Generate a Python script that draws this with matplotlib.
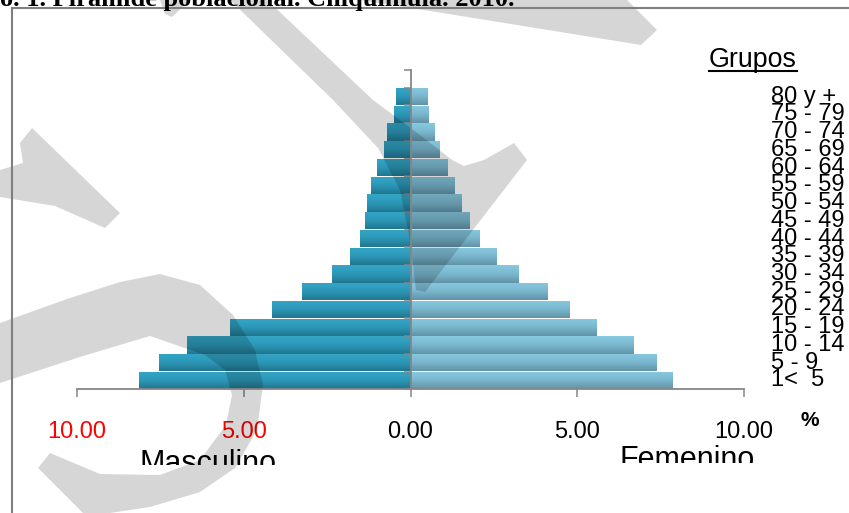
import numpy as np
import matplotlib
matplotlib.use("Agg")
import matplotlib.pyplot as plt
from matplotlib.colors import LinearSegmentedColormap
from matplotlib.patches import Polygon
from matplotlib.lines import Line2D
from matplotlib.transforms import Bbox, TransformedBbox, blended_transform_factory

# grupos de edad, de abajo hacia arriba
grupos = ["1<  5", "5 - 9", "10 - 14", "15 - 19", "20 - 24", "25 - 29", "30 - 34",
          "35 - 39", "40 - 44", "45 - 49", "50 - 54", "55 - 59", "60 - 64",
          "65 - 69", "70 - 74", "75 - 79", "80 y +"]
masculino = [8.15, 7.53, 6.71, 5.40, 4.14, 3.24, 2.34, 1.82, 1.50, 1.37, 1.30,
             1.18, 0.99, 0.80, 0.70, 0.49, 0.42]
femenino = [7.84, 7.36, 6.67, 5.55, 4.75, 4.09, 3.23, 2.57, 2.05, 1.74, 1.51,
            1.31, 1.10, 0.85, 0.71, 0.53, 0.49]
xticks = [-10, -5, 0, 5, 10]
xtick_labels = ["10.00", "5.00", "0.00", "5.00", "10.00"]
xtick_colors = ["red", "red", "black", "black", "black"]

W, H = 849, 513


def fx(x):
    return x / W


def fy(y):
    return 1 - y / H


fig = plt.figure(figsize=(W / 100, H / 100), dpi=100)
fig.patch.set_facecolor("white")

ax = fig.add_axes([fx(77), fy(389.3), fx(744) - fx(77), fy(70) - fy(389.3)])

y = np.arange(len(grupos))
male_bars = ax.barh(y, [-v for v in masculino], height=0.97, color="#2B95B5", zorder=1)
fem_bars = ax.barh(y, femenino, height=0.97, color="#78B8D0", zorder=1)

# degradado vertical de cada barra
cm_m = LinearSegmentedColormap.from_list("m", ["#36A6C6", "#2C98B8", "#21768F"])
cm_f = LinearSegmentedColormap.from_list("f", ["#88C9E0", "#7AB7CE", "#6193A8"])
grad = np.linspace(0, 1, 64).reshape(-1, 1)
for bars, cm in [(male_bars, cm_m), (fem_bars, cm_f)]:
    for r in bars:
        bb = r.get_bbox()
        im = ax.imshow(grad, extent=[bb.xmin, bb.xmax, bb.ymin, bb.ymax],
                       aspect="auto", cmap=cm, origin="upper", zorder=1.5,
                       interpolation="bilinear")
        im.set_clip_path(r)

ax.set_xlim(-10, 10)
ax.set_ylim(-0.5, 17.5)
ax.set_aspect("auto")

gris = "#868686"
for s in ["top", "right"]:
    ax.spines[s].set_visible(False)
ax.spines["left"].set_position(("data", 0))
ax.spines["left"].set_color(gris)
ax.spines["bottom"].set_color(gris)
ax.spines["left"].set_linewidth(1.3)
ax.spines["bottom"].set_linewidth(1.3)

ax.set_yticks(np.arange(-0.5, 18, 1.0))
ax.set_yticklabels([])
ax.tick_params(axis="y", direction="out", length=5, width=1.1, color=gris)

ax.set_xticks(xticks)
ax.set_xticklabels(xtick_labels, fontsize=17, family="Liberation Sans")
ax.tick_params(axis="x", direction="out", length=5.8, width=1.1, color=gris, pad=17)
for lab, c in zip(ax.get_xticklabels(), xtick_colors):
    lab.set_color(c)

# etiquetas de grupos a la derecha
tr = blended_transform_factory(fig.transFigure, ax.transData)
for i, g in enumerate(grupos):
    ax.text(fx(771), i, g, transform=tr, ha="left", va="center", fontsize=17,
            family="Liberation Sans", clip_on=False, zorder=5)

fig.text(fx(709), fy(67), "Grupos", fontsize=19.3, family="Liberation Sans",
         va="baseline", ha="left")
fig.add_artist(Line2D([fx(709), fx(797)], [fy(71), fy(71)], color="black",
                      lw=1.5, transform=fig.transFigure))

fig.text(fx(810), fy(421), "%", fontsize=15, fontweight="bold",
         family="Liberation Sans", ha="center", va="center")

t1 = fig.text(fx(140), fy(472), "Masculino", fontsize=22, family="Liberation Sans",
              va="baseline", ha="left")
t1.set_clip_box(TransformedBbox(Bbox([[0, fy(465)], [1, 1]]), fig.transFigure))
t1.set_clip_on(True)
t2 = fig.text(fx(620), fy(468.5), "Femenino", fontsize=22, family="Liberation Sans",
              va="baseline", ha="left")
t2.set_clip_box(TransformedBbox(Bbox([[0, fy(463)], [1, 1]]), fig.transFigure))
t2.set_clip_on(True)

# titulo cortado y marco
fig.text(0, fy(6), "o. 1. Piramide poblacional. Chiquimula. 2010.", fontsize=19,
         fontweight="bold", family="Liberation Serif", ha="left", va="baseline")
marco = "#7F7F7F"
fig.add_artist(Line2D([fx(12), 1], [fy(8), fy(8)], color=marco, lw=1.5,
                      transform=fig.transFigure))
fig.add_artist(Line2D([fx(12), fx(12)], [fy(8), 0], color=marco, lw=1.5,
                      transform=fig.transFigure))

# marca de agua gris
marcas = [
    [(0, 323), (67, 299), (120, 282), (160, 274), (200, 285), (233, 315), (255, 350),
     (263, 385), (257, 430), (235, 468), (200, 492), (150, 507), (110, 513), (83, 513),
     (38, 468), (50, 453), (100, 474), (160, 475), (200, 460), (226, 425), (232, 395),
     (225, 370), (205, 355), (150, 336), (83, 356), (0, 383)],
    [(0, 170), (23, 163), (20, 143), (32, 128), (120, 213), (105, 228), (55, 206),
     (0, 197)],
    [(160, 0), (190, 0), (172, 17), (165, 14)],
    [(230, 0), (333, 100), (378, 148), (400, 190), (410, 240), (416, 290), (425, 292),
     (527, 160), (514, 143), (484, 160), (464, 166), (452, 160), (420, 135),
     (373, 100), (267, 0)],
    [(360, 0), (424, 10), (641, 45), (657, 30), (627, 0)],
]
for pts in marcas:
    xy = [(fx(a), fy(b)) for a, b in pts]
    ax.add_patch(Polygon(xy, closed=True, facecolor="black", alpha=0.16,
                         edgecolor="none", transform=fig.transFigure,
                         clip_on=False, zorder=2.2))

fig.savefig("out.png", dpi=100)
